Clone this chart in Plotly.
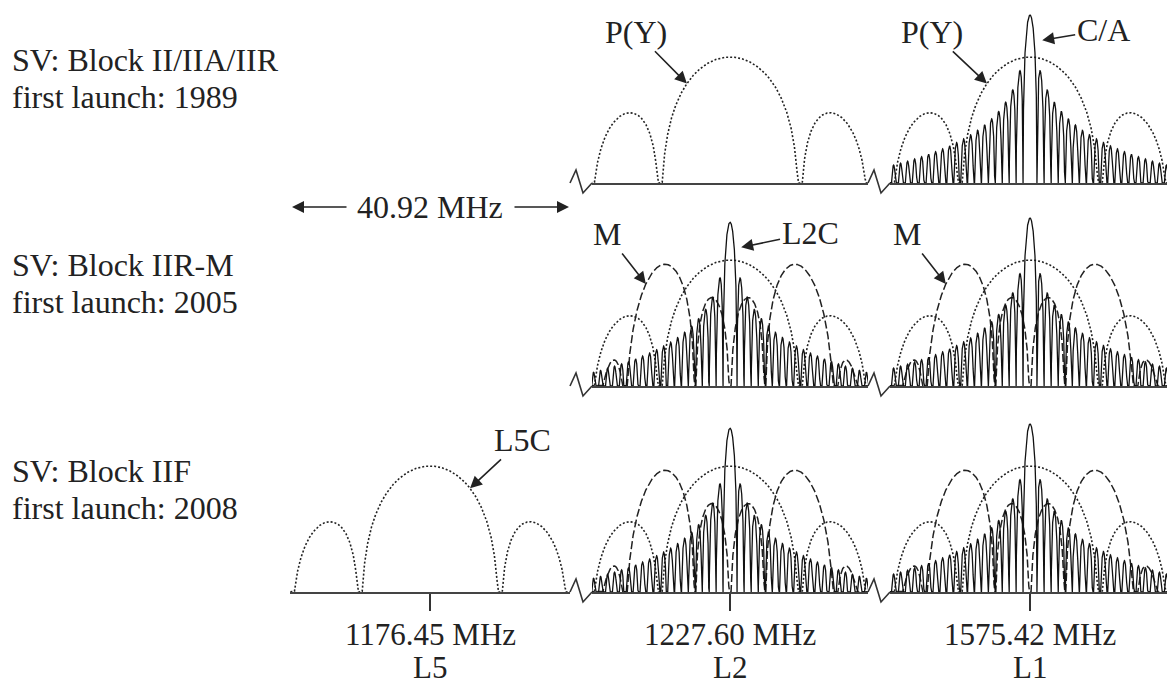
import numpy as np
import plotly.graph_objects as go

# ------------------------------------------------------------------ data
row_titles = ["SV: Block II/IIA/IIR", "SV: Block IIR-M", "SV: Block IIF"]
row_launch = ["first launch: 1989", "first launch: 2005", "first launch: 2008"]
band_names = ["L5", "L2", "L1"]
band_center_labels = ["1176.45 MHz", "1227.60 MHz", "1575.42 MHz"]
span_label = "40.92 MHz"

# signal definitions (PSD shape parameters and display peak level above the floor, dB)
sig_names = ["P(Y)", "C/A", "M", "L2C", "L5C"]
sig_chip_mhz = [10.23, 1.023, 5.115, 1.023, 10.23]
sig_subcarrier_mhz = [0.0, 0.0, 10.23, 0.0, 0.0]
sig_peak_db = [30.0, 40.0, 29.0, 39.0, 30.0]
sig_dash = ["2px,2px", "solid", "8px,3px", "solid", "2px,2px"]
sig_color = ["#222222", "#111111", "#222222", "#111111", "#222222"]
sig_width = [1.6, 1.3, 1.5, 1.3, 1.6]

# which signal is broadcast in which row / band
place_row = [0, 0, 0, 1, 1, 1, 1, 1, 1, 2, 2, 2, 2, 2, 2, 2]
place_band = [1, 2, 2, 1, 1, 1, 2, 2, 2, 0, 1, 1, 1, 2, 2, 2]
place_sig = ["P(Y)", "P(Y)", "C/A", "P(Y)", "M", "L2C", "P(Y)", "M", "C/A",
             "L5C", "P(Y)", "M", "L2C", "P(Y)", "M", "C/A"]

# labelled arrows: row, band, signal, tip frequency offset (MHz), text position (MHz, dB), standoff
arr_row = [0, 0, 0, 1, 1, 1, 2]
arr_band = [1, 2, 2, 1, 1, 2, 0]
arr_sig = ["P(Y)", "P(Y)", "C/A", "M", "L2C", "M", "L5C"]
arr_tip_f = [-6.3, -6.3, 0.63, -12.3, 0.63, -12.3, 5.85]
arr_text_f = [-13.8, -14.3, 10.7, -18.0, 11.7, -18.0, 13.45]
arr_text_db = [36.0, 36.0, 36.4, 36.2, 36.4, 36.2, 36.2]
arr_standoff = [0, 0, 8, 0, 7, 0, 0]

# ------------------------------------------------------------------ layout geometry (pixels)
W, H = 1167, 686
col_px = [(290, 570), (592, 868), (890, 1167)]
col_center_px = [430, 730, 1030]
px_per_mhz = 6.84
row_base_px = [183, 386, 592]
px_per_db = 4.2
y_top_db = 42.0

FONT = "Liberation Serif, Times New Roman, serif"
FS = 32
TXT = "#222222"
ARROW = dict(showarrow=True, arrowhead=2, arrowsize=1.5, arrowwidth=1.6, arrowcolor=TXT)


def psd_db(f, name):
    i = sig_names.index(name)
    chip, sub, peak = sig_chip_mhz[i], sig_subcarrier_mhz[i], sig_peak_db[i]
    f = np.asarray(f, dtype=float)
    with np.errstate(divide="ignore", invalid="ignore"):
        if sub == 0:
            g = np.sinc(f / chip) ** 2
            gmax = 1.0
        else:
            g = (np.sinc(f / chip) * np.tan(np.pi * f / (2 * sub))) ** 2
            ff = np.linspace(0.01, 20.0, 20001)
            gmax = np.nanmax((np.sinc(ff / chip) * np.tan(np.pi * ff / (2 * sub))) ** 2
                             * (np.abs(ff - sub) > 0.05))
        db = peak + 10 * np.log10(g / gmax)
    db = np.where(np.isfinite(db), db, 0.0)
    return np.maximum(db, 0.0)


fig = go.Figure()
layout = dict(width=W, height=H, margin=dict(l=0, r=0, t=0, b=0),
              paper_bgcolor="white", plot_bgcolor="white", showlegend=False)


def ax_id(r, c):
    return r * 3 + c + 1


def sfx(k):
    return "" if k == 1 else str(k)


for r in range(3):
    for c in range(3):
        k = ax_id(r, c)
        x0, x1 = col_px[c]
        cx = col_center_px[c]
        base = row_base_px[r]
        top = base - y_top_db * px_per_db
        xa = dict(domain=[x0 / W, x1 / W],
                  range=[(x0 - cx) / px_per_mhz, (x1 - cx) / px_per_mhz],
                  anchor="y" + sfx(k),
                  showgrid=False, zeroline=False, showticklabels=False,
                  showline=True, linecolor="#444444", linewidth=2,
                  fixedrange=True)
        if r == 2:
            xa.update(ticks="outside", tickvals=[0], ticklen=17, tickwidth=1.5,
                      tickcolor="#333333")
        else:
            xa.update(ticks="")
        ya = dict(domain=[1 - base / H, 1 - top / H], range=[0, y_top_db],
                  anchor="x" + sfx(k), visible=False, fixedrange=True)
        layout["xaxis" + sfx(k)] = xa
        layout["yaxis" + sfx(k)] = ya

freq = np.linspace(-21.0, 21.0, 7001)

# draw order: dotted first, dashed, then solid on top
rank = {"2px,2px": 0, "8px,3px": 1, "solid": 2}
order = sorted(range(len(place_sig)),
               key=lambda j: rank[sig_dash[sig_names.index(place_sig[j])]])
for j in order:
    r, c, s = place_row[j], place_band[j], place_sig[j]
    i = sig_names.index(s)
    k = ax_id(r, c)
    fig.add_trace(go.Scatter(
        x=np.round(freq, 4), y=np.round(psd_db(freq, s), 3), mode="lines",
        line=dict(color=sig_color[i], width=sig_width[i], dash=sig_dash[i]),
        xaxis="x" + sfx(k), yaxis="y" + sfx(k), hoverinfo="skip"))

annotations = []
shapes = []

# band breaks (zig-zag) between bands on every baseline
for r in range(3):
    b = row_base_px[r]
    for xs in (570, 868):
        pts = [(xs, b), (xs + 6, b - 13), (xs + 13, b + 10), (xs + 22, b)]
        path = "M " + " L ".join(f"{x / W:.5f},{1 - y / H:.5f}" for x, y in pts)
        shapes.append(dict(type="path", path=path, xref="paper", yref="paper",
                           line=dict(color="#333333", width=1.6)))

# row labels
row_label_px = [(60, 97), (265, 302), (471, 508)]
for r in range(3):
    for txt, ypx in zip((row_titles[r], row_launch[r]), row_label_px[r]):
        annotations.append(dict(text=txt, x=10 / W, y=1 - ypx / H, xref="paper", yref="paper",
                                xanchor="left", yanchor="middle", showarrow=False,
                                font=dict(family=FONT, size=FS, color=TXT)))

# band centre labels
for c in range(3):
    annotations.append(dict(text=band_center_labels[c], x=col_center_px[c] / W, y=1 - 634 / H,
                            xref="paper", yref="paper", xanchor="center", yanchor="middle",
                            borderpad=0, showarrow=False,
                            font=dict(family=FONT, size=31, color=TXT)))
    annotations.append(dict(text=band_names[c], x=col_center_px[c] / W, y=0,
                            xref="paper", yref="paper", xanchor="center", yanchor="bottom",
                            borderpad=0, showarrow=False,
                            font=dict(family=FONT, size=31, color=TXT)))

# 40.92 MHz span marker
ys = 1 - 207 / H
annotations.append(dict(text=span_label, x=430 / W, y=ys, xref="paper", yref="paper",
                        xanchor="center", yanchor="middle",
                        showarrow=False, font=dict(family=FONT, size=FS, color=TXT)))
for tip, tail in ((292, 348), (569, 513)):
    annotations.append(dict(text="", x=tip / W, y=ys, xref="paper", yref="paper",
                            ax=tail - tip, ay=0, axref="pixel", ayref="pixel", **ARROW))

# signal labels with arrows
for a in range(len(arr_sig)):
    k = ax_id(arr_row[a], arr_band[a])
    xr, yr = "x" + sfx(k), "y" + sfx(k)
    tip_y = float(psd_db([arr_tip_f[a]], arr_sig[a])[0])
    annotations.append(dict(text=arr_sig[a], x=arr_tip_f[a], y=tip_y, xref=xr, yref=yr,
                            ax=arr_text_f[a], ay=arr_text_db[a], axref=xr, ayref=yr,
                            standoff=arr_standoff[a],
                            font=dict(family=FONT, size=FS, color=TXT), **ARROW))

layout["annotations"] = annotations
layout["shapes"] = shapes
fig.update_layout(**layout)
fig.write_html("out.html", config={"displayModeBar": False})

# remove the browser's default page margin so the figure sits at the window origin
with open("out.html", encoding="utf-8") as fh:
    html = fh.read()
html = html.replace("<body>", '<body style="margin:0;padding:0;overflow:hidden">', 1)
with open("out.html", "w", encoding="utf-8") as fh:
    fh.write(html)
